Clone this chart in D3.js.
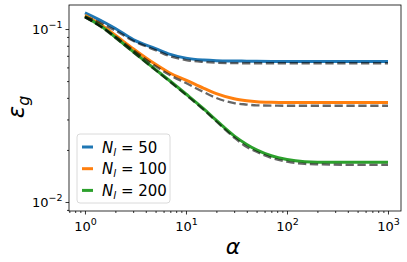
<!DOCTYPE html>
<html lang="en">
<head>
<meta charset="utf-8">
<title>generalization error vs alpha</title>
<script src="https://cdn.jsdelivr.net/npm/d3@7"></script>
<style>
  body { margin: 0; background: #fff; }
  text { font-family: "DejaVu Sans", sans-serif; }
</style>
</head>
<body>
<script>
// sample points (alpha) and error
var alphas = [1, 1.5, 2, 3, 5, 7, 10, 15, 20, 30, 40, 50, 70, 100, 150, 200, 500, 1000];

var sim50  = [0.124, 0.1105, 0.1007, 0.0869, 0.0771, 0.0713, 0.0679, 0.0662, 0.0656, 0.0653, 0.0652, 0.0651, 0.065, 0.065, 0.065, 0.065, 0.065, 0.065];
var sim100 = [0.120, 0.104, 0.092, 0.077, 0.0625, 0.0555, 0.0507, 0.0454, 0.0423, 0.0395, 0.0385, 0.038, 0.0377, 0.0376, 0.0376, 0.0376, 0.0376, 0.0376];
var sim200 = [0.118, 0.1022, 0.0896, 0.074, 0.0583, 0.0499, 0.0421, 0.0345, 0.0296, 0.0241, 0.0215, 0.02, 0.0185, 0.0176, 0.0171, 0.017, 0.017, 0.017];

var th50  = [0.118, 0.107, 0.098, 0.0855, 0.0755, 0.0695, 0.0662, 0.0645, 0.0638, 0.0635, 0.0634, 0.0634, 0.0634, 0.0634, 0.0634, 0.0634, 0.0634, 0.0634];
var th100 = [0.117, 0.102, 0.0905, 0.0755, 0.061, 0.054, 0.0487, 0.0432, 0.0399, 0.0373, 0.0366, 0.0362, 0.0361, 0.036, 0.036, 0.036, 0.036, 0.036];
var th200 = [0.117, 0.1013, 0.0888, 0.0734, 0.0578, 0.0494, 0.0416, 0.0341, 0.0292, 0.0236, 0.0208, 0.0195, 0.018, 0.0171, 0.0166, 0.0165, 0.0164, 0.0164];

var labels = ["50", "100", "200"];
var colors = ["#1f77b4", "#ff7f0e", "#2ca02c"];
var xTicks = [1, 10, 100, 1000];
var yTicks = [0.01, 0.1];

var w = 407, h = 262;
var mL = 69, mR = 401, mT = 5, mB = 211;

var x = d3.scaleLog().domain([0.695, 1345]).range([mL, mR]);
var y = d3.scaleLog().domain([0.00887, 0.1377]).range([mB, mT]);

var svg = d3.select("body").append("svg")
  .attr("width", w).attr("height", h);

// minor tick values
function minors(lo, hi) {
  var out = [];
  for (var e = -3; e <= 3; e++) {
    for (var m = 2; m <= 9; m++) {
      var v = m * Math.pow(10, e);
      if (v >= lo && v <= hi) out.push(v);
    }
  }
  return out;
}

// "10" plus a raised exponent
function powLabel(sel) {
  sel.each(function(v) {
    var t = d3.select(this).text(null);
    t.append("tspan").text("10");
    t.append("tspan").attr("font-size", 9.5).attr("dy", -6)
      .text(String(Math.round(Math.log10(v))).replace("-", "\u2212"));
  });
}

var xAxis = d3.axisBottom(x).tickValues(xTicks).tickSize(3.5).tickPadding(3);
var xMinor = d3.axisBottom(x).tickValues(minors(0.695, 1345)).tickSize(2).tickFormat("");
var yAxis = d3.axisLeft(y).tickValues(yTicks).tickSize(3.5).tickPadding(3);
var yMinor = d3.axisLeft(y).tickValues(minors(0.00887, 0.1377)).tickSize(2).tickFormat("");

var axes = [[xAxis, "translate(0," + mB + ")", true, true], [xMinor, "translate(0," + mB + ")", false, true],
            [yAxis, "translate(" + mL + ",0)", true, false], [yMinor, "translate(" + mL + ",0)", false, false]];
axes.forEach(function(a) {
  var g = svg.append("g").attr("transform", a[1]).call(a[0]);
  g.select(".domain").remove();
  g.selectAll("line").attr("stroke", "#000").attr("stroke-width", 0.8);
  g.selectAll("text").attr("font-size", 13).attr("fill", "#000");
  if (a[2]) g.selectAll(".tick text").call(powLabel);
  if (a[2] && a[3]) g.selectAll(".tick text").attr("dy", "1em");
});

var line = d3.line()
  .x(function(d) { return x(d[0]); })
  .y(function(d) { return y(d[1]); })
  .curve(d3.curveMonotoneX);

var sims = [sim50, sim100, sim200];
var ths = [th50, th100, th200];

var plot = svg.append("g");
sims.forEach(function(s, i) {
  plot.append("path")
    .datum(alphas.map(function(a, j) { return [a, s[j]]; }))
    .attr("d", line)
    .attr("fill", "none")
    .attr("stroke", colors[i])
    .attr("stroke-width", 3);
});
ths.forEach(function(s) {
  plot.append("path")
    .datum(alphas.map(function(a, j) { return [a, s[j]]; }))
    .attr("d", line)
    .attr("fill", "none")
    .attr("stroke", "#000")
    .attr("stroke-opacity", 0.6)
    .attr("stroke-width", 2.3)
    .attr("stroke-dasharray", "8.3,3.6");
});

// frame
svg.append("rect")
  .attr("x", mL).attr("y", mT)
  .attr("width", mR - mL).attr("height", mB - mT)
  .attr("fill", "none").attr("stroke", "#000").attr("stroke-width", 0.8);

// legend
var lg = svg.append("g").attr("transform", "translate(77,134)");
lg.append("rect")
  .attr("width", 93).attr("height", 69).attr("rx", 3)
  .attr("fill", "#fff").attr("fill-opacity", 0.8)
  .attr("stroke", "#d0d0d0").attr("stroke-width", 0.8);
labels.forEach(function(l, i) {
  var cy = 13 + i * 21.7;
  lg.append("line")
    .attr("x1", 5).attr("x2", 16).attr("y1", cy).attr("y2", cy)
    .attr("stroke", colors[i]).attr("stroke-width", 3);
  var t = lg.append("text").attr("x", 25).attr("y", cy + 5.5).attr("font-size", 15);
  t.append("tspan").attr("font-style", "italic").text("N");
  t.append("tspan").attr("font-style", "italic").attr("font-size", 10.5).attr("dy", 3).text("l");
  t.append("tspan").attr("dy", -3).text(" = " + l);
});

// axis labels
svg.append("text")
  .attr("x", 233).attr("y", 254)
  .attr("text-anchor", "middle")
  .attr("font-size", 22)
  .attr("font-style", "italic")
  .text("α");

var yl = svg.append("text")
  .attr("transform", "translate(24,107) rotate(-90)")
  .attr("text-anchor", "middle")
  .attr("font-size", 23);
yl.append("tspan").attr("font-style", "italic").text("ε");
yl.append("tspan").attr("font-style", "italic").attr("font-size", 16).attr("dy", 5).text("g");
</script>
</body>
</html>
